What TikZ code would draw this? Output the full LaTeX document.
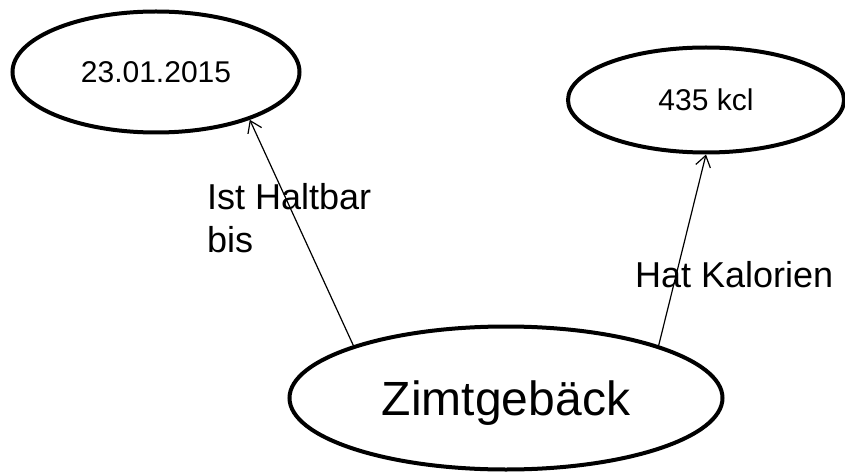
\documentclass[tikz,border=0pt]{standalone}
\usepackage{fontspec}
\setmainfont{Liberation Sans}
\usetikzlibrary{shapes.geometric}
\usetikzlibrary{arrows.meta}
\tikzset{%
	>={Straight Barb[length=11pt,width=15pt]},
	% Specifications for style of nodes:
	bubble/.style = {ellipse, draw=black, line width=4pt, inner sep=0pt, text centered, text depth=0pt},
	small/.style = {bubble, font=\fontsize{30}{36}\selectfont},
	big/.style = {bubble, font=\fontsize{48}{58}\selectfont},
	relation/.style = {inner sep=0pt, align=left, font=\fontsize{36}{43}\selectfont},
}

\begin{document}
\begin{tikzpicture}[x=1pt,y=-1pt]
		\useasboundingbox (0,0) rectangle (845,473);
		
		\node (Datum) [small, minimum width=287pt, minimum height=121pt] at (156,72) {23.01.2015};
		\node (Kcal) [small, minimum width=276pt, minimum height=105pt] at (706,100) {435 kcl};
		\node (Zimt) [big, minimum width=433pt, minimum height=143pt] at (506,398) {Zimtgebäck};
		
		\node (Haltbar) [relation, anchor=north west] at (207,183) {Ist Haltbar\\bis};
		\node (Kalorien) [relation, anchor=base west] at (635,287) {Hat Kalorien};
		
		\draw [line width=1.2pt,->] (Zimt.161) -- (Datum.-27);
		\draw [line width=1.2pt,->] (Zimt.19) -- (Kcal.south);
		
\end{tikzpicture}
\end{document}
